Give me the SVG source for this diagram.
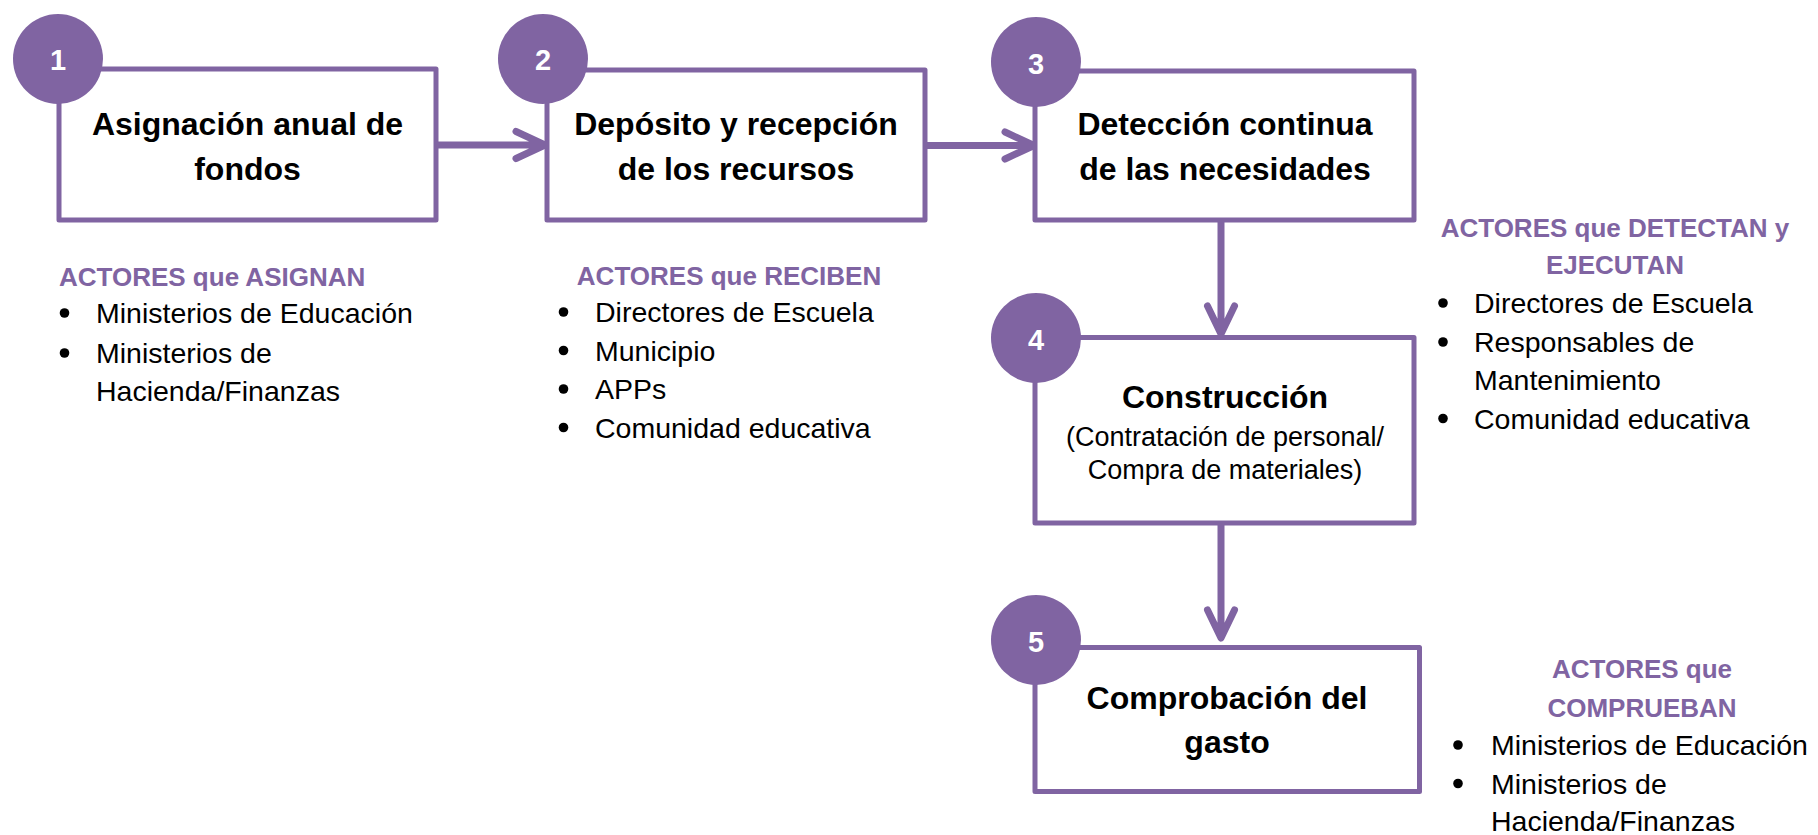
<svg xmlns="http://www.w3.org/2000/svg" width="1818" height="835" viewBox="0 0 1818 835">
<defs>
<style>
.box{fill:#FFFFFF;stroke:#8064A2;stroke-width:5;stroke-linejoin:round}
.badge{fill:#8064A2}
.num{font-family:"Liberation Sans",Arial,sans-serif;font-weight:bold;font-size:29px;fill:#FFFFFF;text-anchor:middle}
.title{font-family:"Liberation Sans",Arial,sans-serif;font-weight:bold;font-size:32px;fill:#000000;text-anchor:middle}
.sub{font-family:"Liberation Sans",Arial,sans-serif;font-size:27px;fill:#000000;text-anchor:middle}
.head{font-family:"Liberation Sans",Arial,sans-serif;font-weight:bold;font-size:26px;fill:#8064A2}
.item{font-family:"Liberation Sans",Arial,sans-serif;font-size:28.5px;fill:#000000}
.dot{fill:#000000}
.conn{fill:none;stroke:#8064A2;stroke-width:7;stroke-linecap:round;stroke-linejoin:round}
</style>
</defs>
<rect width="1818" height="835" fill="#FFFFFF"/>

<g id="connectors">
<path class="conn" d="M438 145 H543 M516 131.5 L545 145 L516 158.5"/>
<path class="conn" d="M927 145.5 H1032 M1005 132 L1034 145.5 L1005 159"/>
<path class="conn" d="M1221 222 V333 M1207.5 306 L1221 334 L1234.5 306"/>
<path class="conn" d="M1221 525 V636 M1207.5 610 L1221 638 L1234.5 610"/>
</g>

<g id="node1">
<rect class="box" x="59" y="69" width="377" height="151"/>
<circle class="badge" cx="58" cy="59" r="45"/>
<text class="num" x="58" y="70">1</text>
<text class="title" x="247.5" y="135">Asignación anual de</text>
<text class="title" x="247.5" y="180">fondos</text>
</g>

<g id="node2">
<rect class="box" x="547" y="70" width="378" height="150"/>
<circle class="badge" cx="543" cy="59" r="45"/>
<text class="num" x="543" y="70">2</text>
<text class="title" x="736" y="135">Depósito y recepción</text>
<text class="title" x="736" y="180">de los recursos</text>
</g>

<g id="node3">
<rect class="box" x="1035" y="71" width="379" height="149"/>
<circle class="badge" cx="1036" cy="62" r="45"/>
<text class="num" x="1036" y="74">3</text>
<text class="title" x="1225" y="135">Detección continua</text>
<text class="title" x="1225" y="180">de las necesidades</text>
</g>

<g id="node4">
<rect class="box" x="1035" y="337.5" width="379" height="185.5"/>
<circle class="badge" cx="1036" cy="338" r="45"/>
<text class="num" x="1036" y="350">4</text>
<text class="title" x="1225" y="408">Construcción</text>
<text class="sub" x="1225" y="446">(Contratación de personal/</text>
<text class="sub" x="1225" y="479">Compra de materiales)</text>
</g>

<g id="node5">
<rect class="box" x="1035" y="647.5" width="384.5" height="144"/>
<circle class="badge" cx="1036" cy="640" r="45"/>
<text class="num" x="1036" y="652">5</text>
<text class="title" x="1227" y="709">Comprobación del</text>
<text class="title" x="1227" y="753">gasto</text>
</g>

<g id="actors1">
<text class="head" x="59" y="286">ACTORES que ASIGNAN</text>
<circle class="dot" cx="64.5" cy="313" r="4.8"/>
<text class="item" x="96" y="323">Ministerios de Educación</text>
<circle class="dot" cx="64.5" cy="353" r="4.8"/>
<text class="item" x="96" y="363">Ministerios de</text>
<text class="item" x="96" y="401">Hacienda/Finanzas</text>
</g>

<g id="actors2">
<text class="head" x="729" y="285" text-anchor="middle">ACTORES que RECIBEN</text>
<circle class="dot" cx="563.5" cy="312" r="4.8"/>
<text class="item" x="595" y="322">Directores de Escuela</text>
<circle class="dot" cx="563.5" cy="350.5" r="4.8"/>
<text class="item" x="595" y="360.5">Municipio</text>
<circle class="dot" cx="563.5" cy="389" r="4.8"/>
<text class="item" x="595" y="399">APPs</text>
<circle class="dot" cx="563.5" cy="427.5" r="4.8"/>
<text class="item" x="595" y="437.5">Comunidad educativa</text>
</g>

<g id="actors3">
<text class="head" x="1615" y="237" text-anchor="middle">ACTORES que DETECTAN y</text>
<text class="head" x="1615" y="274" text-anchor="middle">EJECUTAN</text>
<circle class="dot" cx="1443" cy="303" r="4.8"/>
<text class="item" x="1474" y="313">Directores de Escuela</text>
<circle class="dot" cx="1443" cy="342" r="4.8"/>
<text class="item" x="1474" y="352">Responsables de</text>
<text class="item" x="1474" y="390">Mantenimiento</text>
<circle class="dot" cx="1443" cy="418.5" r="4.8"/>
<text class="item" x="1474" y="428.5">Comunidad educativa</text>
</g>

<g id="actors5">
<text class="head" x="1642" y="678" text-anchor="middle">ACTORES que</text>
<text class="head" x="1642" y="716.5" text-anchor="middle">COMPRUEBAN</text>
<circle class="dot" cx="1458" cy="745" r="4.8"/>
<text class="item" x="1491" y="755">Ministerios de Educación</text>
<circle class="dot" cx="1458" cy="783.5" r="4.8"/>
<text class="item" x="1491" y="793.5">Ministerios de</text>
<text class="item" x="1491" y="831">Hacienda/Finanzas</text>
</g>
</svg>
